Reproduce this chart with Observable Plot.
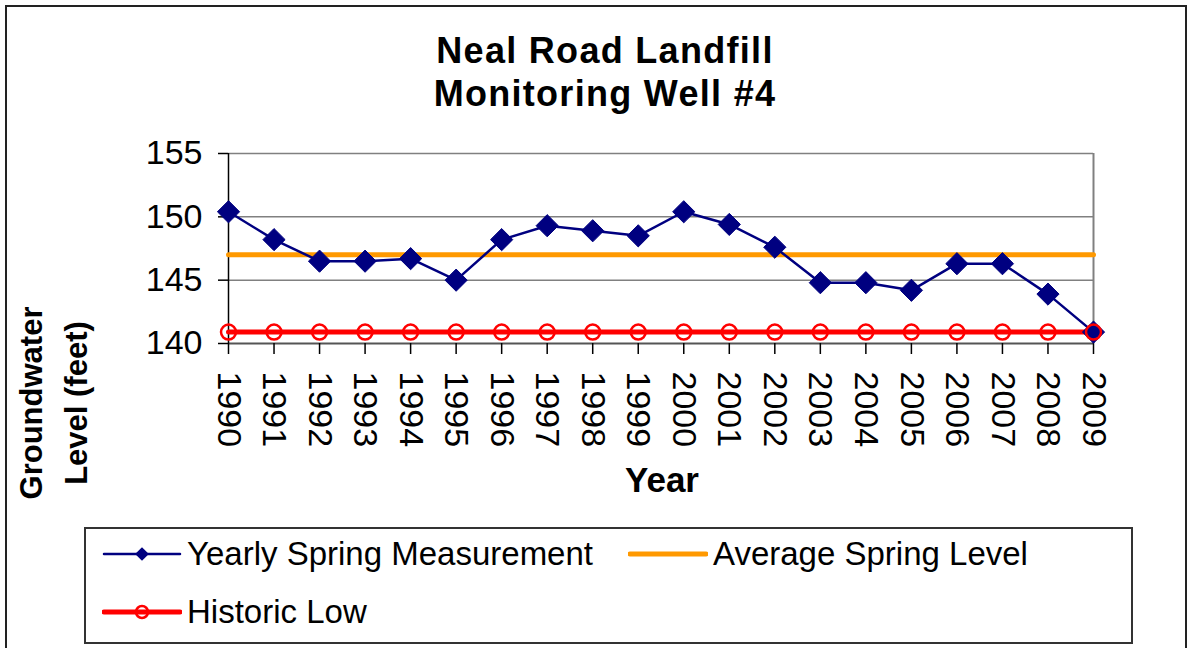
<!DOCTYPE html>
<html>
<head>
<meta charset="utf-8">
<script src="https://cdn.jsdelivr.net/npm/d3@7"></script>
<script src="https://cdn.jsdelivr.net/npm/@observablehq/plot@0.6"></script>
<style>
  html, body { margin: 0; padding: 0; background: #fff; }
  #wrap { position: relative; width: 1190px; height: 648px; overflow: hidden; font-family: "Liberation Sans", Arial, sans-serif; color: #000; }
  #frame { position: absolute; left: 5px; top: 5px; width: 1182px; height: 670px; border: 2px solid #222; box-sizing: border-box; }
  #chart { position: absolute; left: 0; top: 0; }
  .title { position: absolute; left: 305px; width: 600px; text-align: center; font-weight: bold; font-size: 36px; line-height: 43px; top: 29px; letter-spacing: 1.3px; }
  .ylab { position: absolute; font-weight: bold; font-size: 31px; line-height: 45px; text-align: center; width: 240px; left: -66px; top: 358px; transform: rotate(-90deg); }
  .xlab { position: absolute; font-weight: bold; font-size: 35px; left: 562px; width: 200px; text-align: center; top: 460px; }
  #legend { position: absolute; left: 84px; top: 527px; width: 1049px; height: 117px; border: 2px solid #333; box-sizing: border-box; }
  .item { position: absolute; display: flex; align-items: center; font-size: 33px; height: 40px; }
  .item svg { margin-right: 5px; }
</style>
</head>
<body>
<div id="wrap">
  <div id="frame"></div>
  <div id="chart"></div>
  <div class="title">Neal Road Landfill<br>Monitoring Well #4</div>
  <div class="ylab">Groundwater<br>Level (feet)</div>
  <div class="xlab">Year</div>
  <div id="legend"></div>
</div>
<script>
const years = [1990,1991,1992,1993,1994,1995,1996,1997,1998,1999,2000,2001,2002,2003,2004,2005,2006,2007,2008,2009];
const springLevels = [150.4,148.2,146.5,146.5,146.7,145.0,148.2,149.3,148.9,148.5,150.4,149.4,147.6,144.8,144.8,144.2,146.3,146.3,143.9,140.9];
const averageLevel = 147.0;
const historicLow = 140.9;
const yTicks = [140,145,150,155];
const seriesNames = ["Yearly Spring Measurement","Average Spring Level","Historic Low"];
const seriesColors = ["#000080","#FF9900","#FF0000"];

const measured = years.map((y, i) => ({year: y, value: springLevels[i]}));
const avg = years.map(y => ({year: y, value: averageLevel}));
const low = years.map(y => ({year: y, value: historicLow}));

const chart = Plot.plot({
  width: 1190,
  height: 648,
  marginLeft: 228,
  marginRight: 97,
  marginTop: 153,
  marginBottom: 305,
  style: {fontFamily: "'Liberation Sans', Arial, sans-serif", fontSize: "34px", background: "transparent", color: "#000", overflow: "visible"},
  x: {domain: [1990, 2009], ticks: years, tickFormat: d => String(d), tickRotate: 90, tickSize: 11, tickPadding: 17, label: null},
  y: {domain: [140, 155], ticks: yTicks, tickSize: 10, tickPadding: 16, label: null},
  marks: [
    Plot.ruleY([145, 150, 155], {stroke: "#808080", strokeWidth: 1.5, strokeOpacity: 1}),
    Plot.ruleX([2009], {stroke: "#808080", strokeWidth: 2, strokeOpacity: 1}),
    Plot.ruleY([140], {stroke: "#555", strokeWidth: 2}),
    Plot.ruleX([1990], {stroke: "#000", strokeWidth: 1.5}),
    Plot.axisX({ticks: years, tickFormat: d => String(d), tickRotate: 90, tickSize: 11, tickPadding: 17, label: null, strokeWidth: 1.5}),
    Plot.axisY({ticks: yTicks, tickSize: 10, tickPadding: 16, label: null, strokeWidth: 1.5}),
    Plot.line(avg, {x: "year", y: "value", stroke: seriesColors[1], strokeWidth: 5}),
    Plot.line(low, {x: "year", y: "value", stroke: seriesColors[2], strokeWidth: 5}),
    Plot.line(measured, {x: "year", y: "value", stroke: seriesColors[0], strokeWidth: 2.5}),
    Plot.dot(measured, {x: "year", y: "value", symbol: "diamond2", r: 10, fill: seriesColors[0], stroke: seriesColors[0], strokeWidth: 1}),
    Plot.dot(low, {x: "year", y: "value", r: 7.5, stroke: seriesColors[2], strokeWidth: 2.5, fill: "none"})
  ]
});
document.getElementById("chart").appendChild(chart);

// legend
const legend = document.getElementById("legend");
const positions = [[16, 5], [542, 5], [16, 63]];
seriesNames.forEach((name, i) => {
  const item = document.createElement("div");
  item.className = "item";
  item.style.left = positions[i][0] + "px";
  item.style.top = positions[i][1] + "px";
  const svg = d3.create("svg").attr("width", 80).attr("height", 40);
  svg.append("line").attr("x1", 2).attr("x2", 78).attr("y1", 20).attr("y2", 20)
    .attr("stroke", seriesColors[i]).attr("stroke-width", i === 0 ? 2.5 : 5).attr("stroke-linecap", "round");
  if (i === 0) {
    svg.append("path").attr("transform", "translate(40,20)").attr("d", d3.symbol(d3.symbolDiamond2, 120)()).attr("fill", seriesColors[0]);
  } else if (i === 2) {
    svg.append("circle").attr("cx", 40).attr("cy", 20).attr("r", 6).attr("fill", "none").attr("stroke", seriesColors[2]).attr("stroke-width", 2.5);
  }
  item.appendChild(svg.node());
  const span = document.createElement("span");
  span.textContent = name;
  item.appendChild(span);
  legend.appendChild(item);
});
</script>
</body>
</html>
